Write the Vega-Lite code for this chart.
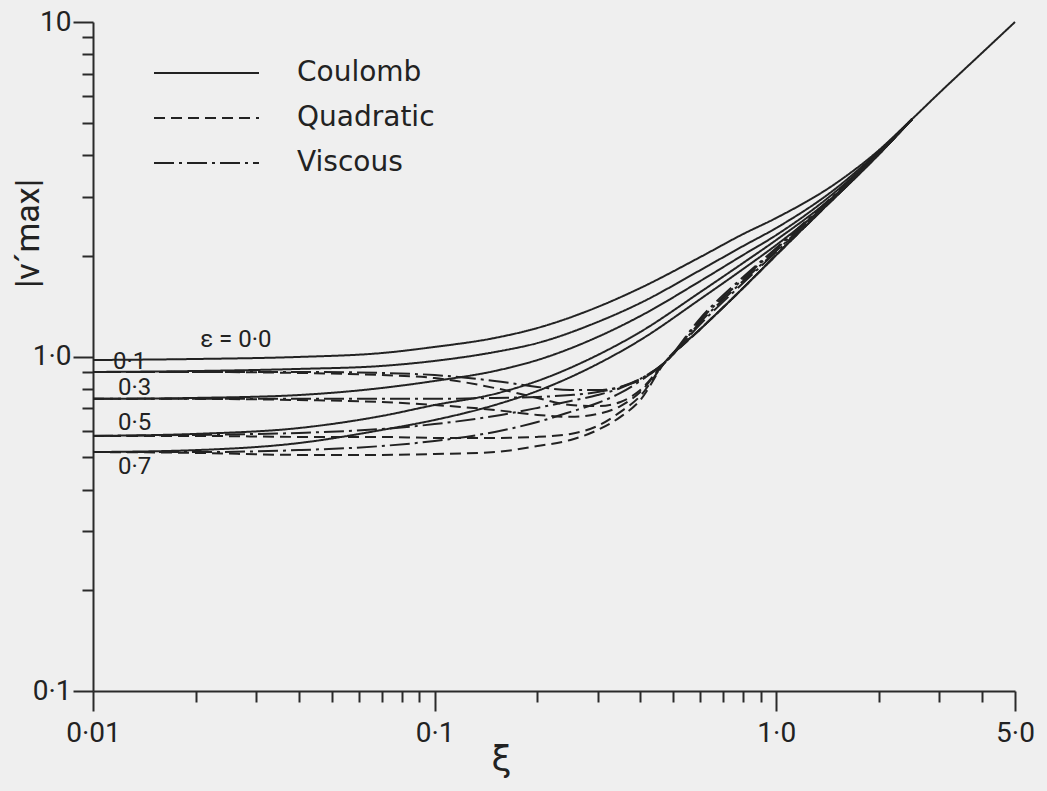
{
  "$schema": "https://vega.github.io/schema/vega-lite/v6.json",
  "width": 922,
  "height": 669,
  "autosize": {"type": "none"},
  "padding": {"left": 93, "top": 22, "right": 32, "bottom": 100},
  "background": "#efefef",
  "config": {
    "view": {"stroke": null},
    "font": "Roboto",
    "axis": {"grid": false, "domainColor": "#2a2a2a", "tickColor": "#2a2a2a", "labelColor": "#222222", "titleColor": "#222222", "domainWidth": 2, "tickWidth": 2, "labelFont": "Roboto", "titleFont": "Roboto", "labelOverlap": false, "labelFlush": false, "titleFontWeight": "normal"}
  },
  "datasets": {
    "curves": [
      {"type": "Coulomb", "xi": 0.01, "e00": 0.976, "e01": 0.899, "e03": 0.747, "e05": 0.579, "e07": 0.518},
      {"type": "Coulomb", "xi": 0.02, "e00": 0.983, "e01": 0.905, "e03": 0.752, "e05": 0.587, "e07": 0.525},
      {"type": "Coulomb", "xi": 0.04, "e00": 0.997, "e01": 0.918, "e03": 0.767, "e05": 0.611, "e07": 0.551},
      {"type": "Coulomb", "xi": 0.07, "e00": 1.024, "e01": 0.937, "e03": 0.805, "e05": 0.664, "e07": 0.603},
      {"type": "Coulomb", "xi": 0.1, "e00": 1.068, "e01": 0.970, "e03": 0.845, "e05": 0.716, "e07": 0.646},
      {"type": "Coulomb", "xi": 0.15, "e00": 1.136, "e01": 1.031, "e03": 0.905, "e05": 0.773, "e07": 0.716},
      {"type": "Coulomb", "xi": 0.2, "e00": 1.217, "e01": 1.097, "e03": 0.976, "e05": 0.845, "e07": 0.789},
      {"type": "Coulomb", "xi": 0.3, "e00": 1.406, "e01": 1.268, "e03": 1.144, "e05": 1.010, "e07": 0.950},
      {"type": "Coulomb", "xi": 0.4, "e00": 1.602, "e01": 1.445, "e03": 1.321, "e05": 1.184, "e07": 1.120},
      {"type": "Coulomb", "xi": 0.6, "e00": 1.984, "e01": 1.813, "e03": 1.682, "e05": 1.559, "e07": 1.486},
      {"type": "Coulomb", "xi": 0.8, "e00": 2.323, "e01": 2.139, "e03": 2.011, "e05": 1.904, "e07": 1.826},
      {"type": "Coulomb", "xi": 1.0, "e00": 2.595, "e01": 2.422, "e03": 2.307, "e05": 2.230, "e07": 2.154},
      {"type": "Coulomb", "xi": 1.5, "e00": 3.302, "e01": 3.190, "e03": 3.125, "e05": 3.061, "e07": 3.019},
      {"type": "Coulomb", "xi": 2.0, "e00": 4.143, "e01": 4.115, "e03": 4.087, "e05": 4.059, "e07": 4.031},
      {"type": "Coulomb", "xi": 2.5, "e00": 5.129, "e01": 5.129, "e03": 5.129, "e05": 5.129, "e07": 5.129},
      {"type": "Coulomb", "xi": 3.0, "e00": 6.134},
      {"type": "Coulomb", "xi": 4.0, "e00": 8.078},
      {"type": "Coulomb", "xi": 5.0, "e00": 10.0},
      {"type": "Quadratic", "xi": 0.01, "e01": 0.899, "e03": 0.747, "e05": 0.579, "e07": 0.518},
      {"type": "Quadratic", "xi": 0.02, "e01": 0.899, "e03": 0.747, "e05": 0.579, "e07": 0.515},
      {"type": "Quadratic", "xi": 0.04, "e01": 0.893, "e03": 0.741, "e05": 0.575, "e07": 0.508},
      {"type": "Quadratic", "xi": 0.07, "e01": 0.880, "e03": 0.731, "e05": 0.575, "e07": 0.508},
      {"type": "Quadratic", "xi": 0.1, "e01": 0.862, "e03": 0.716, "e05": 0.571, "e07": 0.511},
      {"type": "Quadratic", "xi": 0.15, "e01": 0.805, "e03": 0.692, "e05": 0.571, "e07": 0.518},
      {"type": "Quadratic", "xi": 0.2, "e01": 0.752, "e03": 0.669, "e05": 0.575, "e07": 0.540},
      {"type": "Quadratic", "xi": 0.25, "e01": 0.716, "e03": 0.660, "e05": 0.587, "e07": 0.563},
      {"type": "Quadratic", "xi": 0.3, "e01": 0.711, "e03": 0.673, "e05": 0.620, "e07": 0.603},
      {"type": "Quadratic", "xi": 0.35, "e01": 0.731, "e03": 0.711, "e05": 0.683, "e07": 0.660},
      {"type": "Quadratic", "xi": 0.4, "e01": 0.794, "e03": 0.783, "e05": 0.762, "e07": 0.741},
      {"type": "Quadratic", "xi": 0.47, "e01": 0.956, "e03": 0.956, "e05": 0.956, "e07": 0.956},
      {"type": "Quadratic", "xi": 0.6, "e01": 1.208, "e03": 1.208, "e05": 1.208, "e07": 1.208},
      {"type": "Quadratic", "xi": 0.8, "e01": 1.602, "e03": 1.602, "e05": 1.602, "e07": 1.602},
      {"type": "Quadratic", "xi": 1.0, "e01": 2.011, "e03": 2.011, "e05": 2.011, "e07": 2.011},
      {"type": "Quadratic", "xi": 1.5, "e01": 3.019, "e03": 3.019, "e05": 3.019, "e07": 3.019},
      {"type": "Quadratic", "xi": 2.0, "e01": 4.031, "e03": 4.031, "e05": 4.031, "e07": 4.031},
      {"type": "Quadratic", "xi": 2.5, "e01": 5.129, "e03": 5.129, "e05": 5.129, "e07": 5.129},
      {"type": "Viscous", "xi": 0.01, "e01": 0.899, "e03": 0.747, "e05": 0.579, "e07": 0.518},
      {"type": "Viscous", "xi": 0.02, "e01": 0.899, "e03": 0.747, "e05": 0.583, "e07": 0.518},
      {"type": "Viscous", "xi": 0.04, "e01": 0.899, "e03": 0.747, "e05": 0.591, "e07": 0.525},
      {"type": "Viscous", "xi": 0.07, "e01": 0.893, "e03": 0.747, "e05": 0.607, "e07": 0.540},
      {"type": "Viscous", "xi": 0.1, "e01": 0.880, "e03": 0.747, "e05": 0.628, "e07": 0.559},
      {"type": "Viscous", "xi": 0.15, "e01": 0.845, "e03": 0.752, "e05": 0.664, "e07": 0.595},
      {"type": "Viscous", "xi": 0.2, "e01": 0.811, "e03": 0.757, "e05": 0.702, "e07": 0.637},
      {"type": "Viscous", "xi": 0.25, "e01": 0.794, "e03": 0.767, "e05": 0.736, "e07": 0.683},
      {"type": "Viscous", "xi": 0.3, "e01": 0.794, "e03": 0.783, "e05": 0.767, "e07": 0.726},
      {"type": "Viscous", "xi": 0.35, "e01": 0.811, "e03": 0.811, "e05": 0.805, "e07": 0.778},
      {"type": "Viscous", "xi": 0.4, "e01": 0.851, "e03": 0.857, "e05": 0.857, "e07": 0.845},
      {"type": "Viscous", "xi": 0.47, "e01": 0.956, "e03": 0.956, "e05": 0.956, "e07": 0.956},
      {"type": "Viscous", "xi": 0.6, "e01": 1.303, "e03": 1.286, "e05": 1.268, "e07": 1.251},
      {"type": "Viscous", "xi": 0.8, "e01": 1.728, "e03": 1.705, "e05": 1.682, "e07": 1.659},
      {"type": "Viscous", "xi": 1.0, "e01": 2.110, "e03": 2.096, "e05": 2.067, "e07": 2.053},
      {"type": "Viscous", "xi": 1.5, "e01": 3.082, "e03": 3.061, "e05": 3.040, "e07": 3.040},
      {"type": "Viscous", "xi": 2.0, "e01": 4.059, "e03": 4.059, "e05": 4.031, "e07": 4.031},
      {"type": "Viscous", "xi": 2.5, "e01": 5.129, "e03": 5.129, "e05": 5.129, "e07": 5.129}
    ],
    "labels": [
      {"label": "ε = 0·0", "xi": 0.0206, "v": 1.12},
      {"label": "0·1", "xi": 0.01145, "v": 0.963},
      {"label": "0·3", "xi": 0.01184, "v": 0.805},
      {"label": "0·5", "xi": 0.01184, "v": 0.633},
      {"label": "0·7", "xi": 0.01184, "v": 0.467}
    ]
  },
  "layer": [
    {
      "data": {"name": "curves"},
      "transform": [
        {"fold": ["e00", "e01", "e03", "e05", "e07"], "as": ["eps", "v"]},
        {"filter": "isValid(datum.v)"}
      ],
      "mark": {"type": "line", "strokeWidth": 2, "color": "#222222", "interpolate": "monotone"},
      "encoding": {
        "x": {
          "field": "xi", "type": "quantitative",
          "scale": {"type": "log", "domain": [0.01, 5], "nice": false},
          "axis": {
            "orient": "bottom", "values": [0.01, 0.1, 1, 5],
            "labelExpr": "datum.value < 0.05 ? '0·01' : datum.value < 0.5 ? '0·1' : datum.value < 2 ? '1·0' : '5·0'",
            "tickSize": 20, "labelFontSize": 28, "labelPadding": 8,
            "title": "ξ", "titleFontSize": 36, "titleFont": "DejaVu Sans",
            "titleX": 408, "titleY": 68, "titleAlign": "center", "titleBaseline": "middle"
          }
        },
        "y": {
          "field": "v", "type": "quantitative",
          "scale": {"type": "log", "domain": [0.1, 10], "nice": false},
          "axis": {
            "orient": "left", "values": [0.1, 1, 10],
            "labelExpr": "datum.value < 0.5 ? '0·1' : datum.value < 5 ? '1·0' : '10'",
            "tickSize": 20, "labelFontSize": 28, "labelPadding": 2,
            "title": "|v´max|", "titleFontSize": 34, "titleAngle": 270,
            "titleX": -65, "titleY": 211, "titleAlign": "center", "titleBaseline": "middle"
          }
        },
        "detail": {"field": "eps"},
        "strokeDash": {
          "field": "type", "type": "nominal",
          "scale": {"domain": ["Coulomb", "Quadratic", "Viscous"], "range": [[1, 0], [11, 6], [20, 5, 3, 5]]},
          "legend": {
            "orient": "none", "legendX": 60, "legendY": 35, "title": null,
            "symbolType": "stroke", "symbolSize": 11025, "symbolStrokeWidth": 2,
            "symbolStrokeColor": "#222222", "labelFontSize": 28, "labelFont": "DejaVu Sans",
            "labelColor": "#222222", "labelOffset": 37, "clipHeight": 32, "rowPadding": 13, "padding": 0, "symbolOffset": 0
          }
        }
      }
    },
    {
      "data": {"name": "labels"},
      "mark": {"type": "text", "align": "left", "baseline": "middle", "fontSize": 24, "font": "Roboto", "color": "#222222"},
      "encoding": {
        "x": {
          "field": "xi", "type": "quantitative",
          "scale": {"type": "log", "domain": [0.01, 5], "nice": false},
          "axis": {"orient": "bottom", "values": [0.02, 0.03, 0.04, 0.05, 0.06, 0.07, 0.08, 0.09, 0.2, 0.3, 0.4, 0.5, 0.6, 0.7, 0.8, 0.9, 2, 3, 4], "tickSize": 11, "labels": false, "domain": false, "title": null}
        },
        "y": {
          "field": "v", "type": "quantitative",
          "scale": {"type": "log", "domain": [0.1, 10], "nice": false},
          "axis": {"orient": "left", "values": [0.2, 0.3, 0.4, 0.5, 0.6, 0.7, 0.8, 0.9, 2, 3, 4, 5, 6, 7, 8, 9], "tickSize": 11, "labels": false, "domain": false, "title": null}
        },
        "text": {"field": "label"}
      }
    }
  ],
  "resolve": {"axis": {"x": "independent", "y": "independent"}}
}
